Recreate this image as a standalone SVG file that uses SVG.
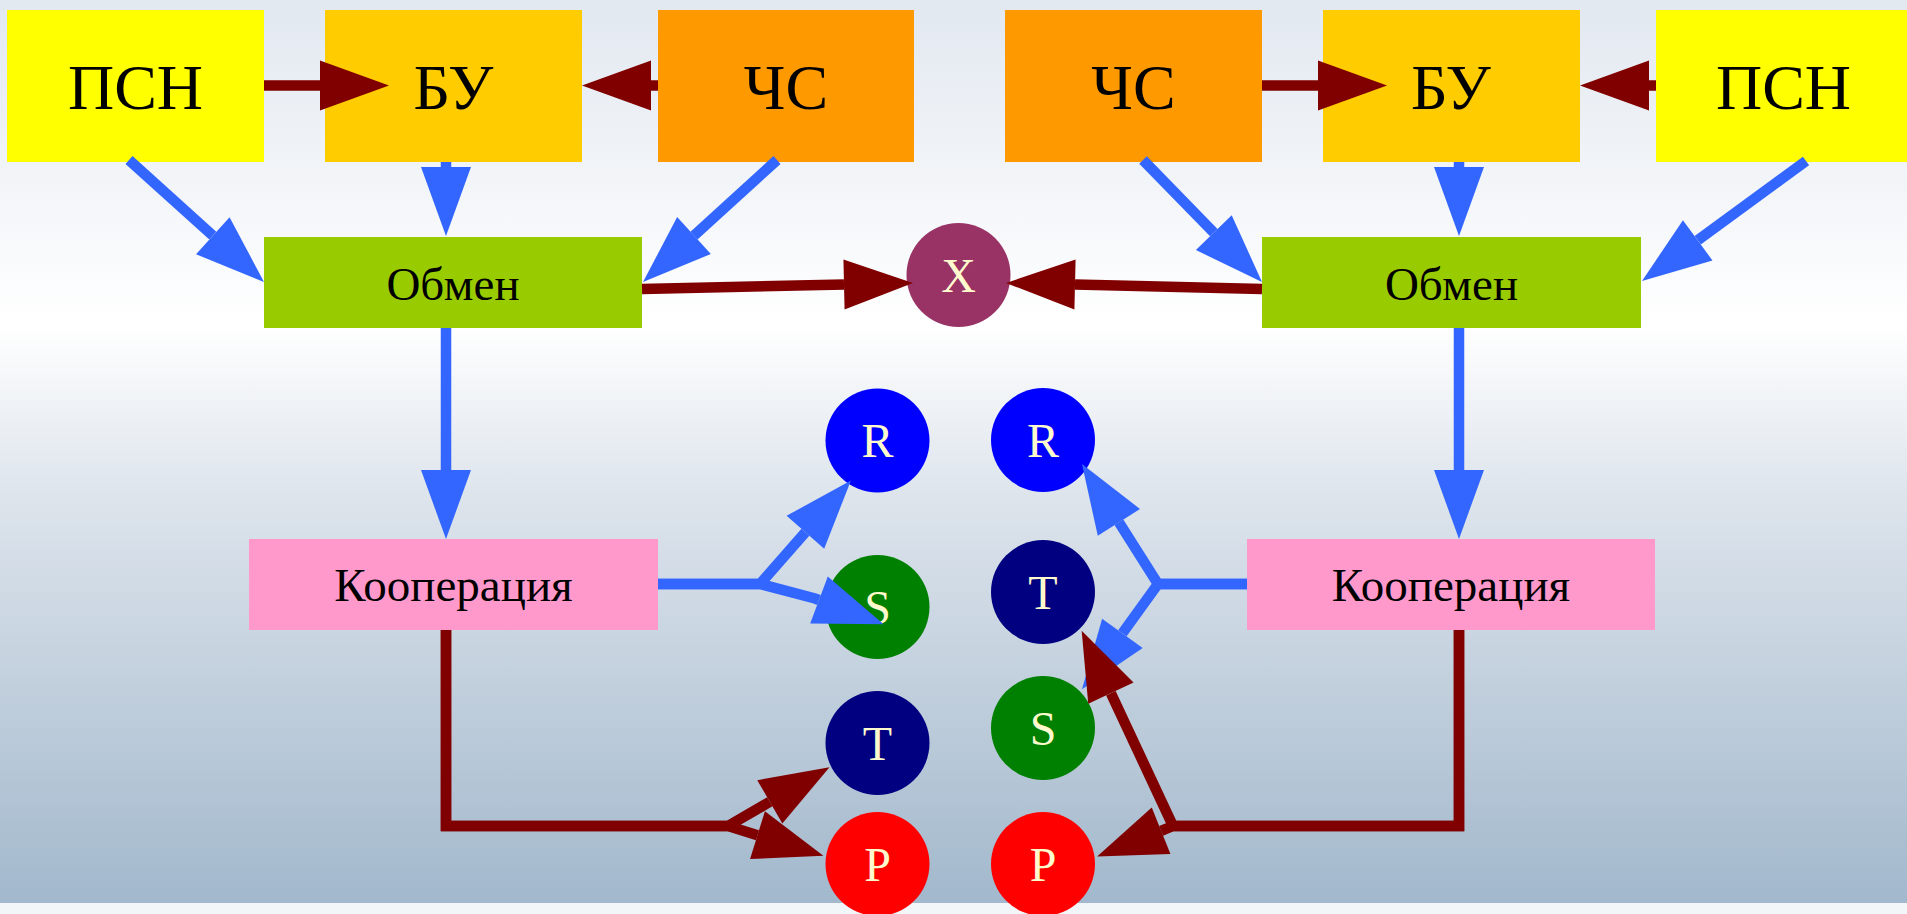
<svg xmlns="http://www.w3.org/2000/svg" width="1907" height="914" viewBox="0 0 1907 914">
<defs>
<linearGradient id="bg" x1="0" y1="0" x2="0" y2="1">
<stop offset="0" stop-color="#e2e8f0"/>
<stop offset="0.36" stop-color="#ffffff"/>
<stop offset="0.55" stop-color="#dde4ec"/>
<stop offset="1" stop-color="#a2b8cc"/>
</linearGradient>
<marker id="ab" markerUnits="userSpaceOnUse" markerWidth="70" markerHeight="52" refX="0" refY="25" orient="auto" overflow="visible">
<path d="M0,0 L69,25 L0,50 Z" fill="#3366ff"/>
</marker>
<marker id="ar" markerUnits="userSpaceOnUse" markerWidth="70" markerHeight="52" refX="0" refY="25" orient="auto" overflow="visible">
<path d="M0,0 L69,25 L0,50 Z" fill="#800000"/>
</marker>
<style>
.t{font-family:"Liberation Serif","Times New Roman",serif;text-anchor:middle;fill:#000}
.big{font-size:64px}
.mid{font-size:47px}
.c{font-family:"Liberation Serif","Times New Roman",serif;text-anchor:middle;font-size:48px;fill:#fffacd}
.eb{fill:none;stroke:#3366ff;stroke-width:10.5;marker-end:url(#ab)}
.er{fill:none;stroke:#800000;stroke-width:10.5;marker-end:url(#ar)}
</style>
</defs>
<rect x="0" y="0" width="1907" height="903" fill="url(#bg)"/>
<rect x="0" y="903" width="1907" height="11" fill="#f3f6f9"/>

<g id="psn1"><rect x="7" y="10" width="257" height="152" fill="#ffff00"/><text class="t big" x="135.5" y="109">ПСН</text></g>
<g id="bu1"><rect x="325" y="10" width="257" height="152" fill="#ffcc00"/><text class="t big" x="453.5" y="109">БУ</text></g>
<g id="chs1"><rect x="658" y="10" width="256" height="152" fill="#ff9900"/><text class="t big" x="786" y="109">ЧС</text></g>
<g id="obmen1"><rect x="264" y="237" width="378" height="91" fill="#99cc00"/><text class="t mid" x="453" y="300">Обмен</text></g>
<g id="koop1"><rect x="249" y="539" width="409" height="91" fill="#ff99cc"/><text class="t mid" x="453.5" y="601">Кооперация</text></g>

<g id="chs2"><rect x="1005" y="10" width="257" height="152" fill="#ff9900"/><text class="t big" x="1133.5" y="109">ЧС</text></g>
<g id="bu2"><rect x="1323" y="10" width="257" height="152" fill="#ffcc00"/><text class="t big" x="1451" y="109">БУ</text></g>
<g id="psn2"><rect x="1656" y="10" width="257" height="152" fill="#ffff00"/><text class="t big" x="1783.5" y="109">ПСН</text></g>
<g id="obmen2"><rect x="1262" y="237" width="379" height="91" fill="#99cc00"/><text class="t mid" x="1451.5" y="300">Обмен</text></g>
<g id="koop2"><rect x="1247" y="539" width="408" height="91" fill="#ff99cc"/><text class="t mid" x="1451" y="601">Кооперация</text></g>

<g id="x"><circle cx="958.5" cy="275" r="52" fill="#993366"/><text class="c" x="958.5" y="291.5">X</text></g>

<g id="r1"><circle cx="877.5" cy="440.5" r="52" fill="#0000ff"/><text class="c" x="877.5" y="457">R</text></g>
<g id="s1"><circle cx="877.5" cy="607" r="52" fill="#008000"/><text class="c" x="877.5" y="623.5">S</text></g>
<g id="t1"><circle cx="877.5" cy="743" r="52" fill="#000080"/><text class="c" x="877.5" y="759.5">T</text></g>
<g id="p1"><circle cx="877.5" cy="864" r="52" fill="#ff0000"/><text class="c" x="877.5" y="880.5">P</text></g>

<g id="r2"><circle cx="1043" cy="440" r="52" fill="#0000ff"/><text class="c" x="1043" y="456.5">R</text></g>
<g id="t2"><circle cx="1043" cy="592" r="52" fill="#000080"/><text class="c" x="1043" y="608.5">T</text></g>
<g id="s2"><circle cx="1043" cy="728" r="52" fill="#008000"/><text class="c" x="1043" y="744.5">S</text></g>
<g id="p2"><circle cx="1043" cy="864" r="52" fill="#ff0000"/><text class="c" x="1043" y="880.5">P</text></g>

<g id="connectors">
<path class="er" d="M264,85.5 L320,85.5"/>
<path class="er" d="M658,85.5 L651,85.5"/>
<path class="eb" d="M129,160 L212.8,235.7"/>
<path class="eb" d="M446,162 L446,167"/>
<path class="eb" d="M777,160 L694,235.6"/>
<path class="er" d="M642,289 L844,284.5"/>
<path class="eb" d="M446,328 L446,470"/>

<path class="er" d="M1262,85.5 L1318,85.5"/>
<path class="er" d="M1656,85.5 L1649,85.5"/>
<path class="eb" d="M1143,160 L1213.8,232.6"/>
<path class="eb" d="M1459,162 L1459,167"/>
<path class="eb" d="M1806,161 L1697.7,240.3"/>
<path class="er" d="M1262,289 L1075,284.6"/>
<path class="eb" d="M1459,328 L1459,470"/>

<path class="eb" d="M658,584 L760,584 L805.4,532.3"/>
<path class="eb" d="M658,584 L760,584 L815,598.5 L819,600"/>
<path class="er" d="M446,630 L446,826 L728,826 L769.8,801.8"/>
<path class="er" d="M446,630 L446,826 L728,826 L757.5,835.2"/>

<path class="eb" d="M1247,584 L1158,584 L1118.9,522.3"/>
<path class="eb" d="M1247,584 L1158,584 L1122.4,633.3"/>
<path class="er" d="M1459,630 L1459,826 L1173,826 L1110.9,693.2"/>
<path class="er" d="M1459,630 L1459,826 L1173,826 L1161.1,830.8"/>
</g>
</svg>
